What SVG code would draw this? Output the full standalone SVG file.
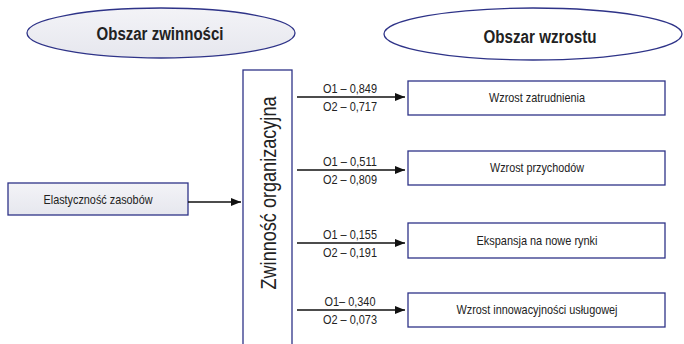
<svg xmlns="http://www.w3.org/2000/svg" width="684" height="344" viewBox="0 0 684 344">
  <defs>
    <linearGradient id="softFill" x1="0" y1="0" x2="0" y2="1">
      <stop offset="0" stop-color="#f3f3f7"/>
      <stop offset="1" stop-color="#e6e7ee"/>
    </linearGradient>
    <marker id="head" viewBox="0 0 10 8" refX="10" refY="4" markerWidth="10" markerHeight="8" markerUnits="userSpaceOnUse" orient="auto">
      <path d="M0,0 L10,4 L0,8 Z" fill="#111"/>
    </marker>
    <style>
      .frame { stroke: #2e3388; stroke-width: 1.3; }
      .t { font-family: "Liberation Sans Narrow", "Liberation Sans", Arial, sans-serif; fill: #222; text-anchor: middle; }
      .title { font-size: 18px; font-weight: bold; }
      .box { font-size: 13px; }
      .lbl { font-size: 13px; }
      .link { stroke: #111; stroke-width: 1.3; fill: none; marker-end: url(#head); }
    </style>
  </defs>

  <g id="area-agility">
    <ellipse class="frame" cx="161" cy="33" rx="134" ry="25" fill="url(#softFill)"/>
    <text class="t title" x="160" y="39.5" textLength="127" lengthAdjust="spacingAndGlyphs">Obszar zwinności</text>
  </g>

  <g id="area-growth">
    <ellipse class="frame" cx="533" cy="34" rx="149" ry="26" fill="#fff"/>
    <text class="t title" x="540" y="43" textLength="113" lengthAdjust="spacingAndGlyphs">Obszar wzrostu</text>
  </g>

  <g id="resource-flexibility">
    <rect class="frame" x="8" y="183" width="180" height="32" fill="url(#softFill)"/>
    <text class="t box" x="98" y="203.5" textLength="109" lengthAdjust="spacingAndGlyphs">Elastyczność zasobów</text>
  </g>

  <g id="organizational-agility">
    <rect class="frame" x="243" y="70" width="49" height="290" fill="#fff"/>
    <text class="t" font-size="22" transform="translate(275.5,193) rotate(-90)" x="0" y="0" textLength="193" lengthAdjust="spacingAndGlyphs">Zwinność organizacyjna</text>
  </g>

  <g id="employment-growth">
    <rect class="frame" x="408" y="81" width="257" height="34" fill="#fff"/>
    <text class="t box" x="537" y="102" textLength="96" lengthAdjust="spacingAndGlyphs">Wzrost zatrudnienia</text>
  </g>

  <g id="revenue-growth">
    <rect class="frame" x="408" y="151" width="257" height="34" fill="#fff"/>
    <text class="t box" x="537" y="172" textLength="94" lengthAdjust="spacingAndGlyphs">Wzrost przychodów</text>
  </g>

  <g id="market-expansion">
    <rect class="frame" x="408" y="223" width="257" height="35" fill="#fff"/>
    <text class="t box" x="537" y="244.5" textLength="121" lengthAdjust="spacingAndGlyphs">Ekspansja na nowe rynki</text>
  </g>

  <g id="service-innovation">
    <rect class="frame" x="408" y="293" width="257" height="34" fill="#fff"/>
    <text class="t box" x="537" y="314" textLength="161" lengthAdjust="spacingAndGlyphs">Wzrost innowacyjności usługowej</text>
  </g>

  <g id="connectors">
    <line class="link" x1="188" y1="202" x2="241" y2="202"/>
    <line class="link" x1="297" y1="97" x2="405" y2="97"/>
    <line class="link" x1="297" y1="170" x2="405" y2="170"/>
    <line class="link" x1="297" y1="243" x2="405" y2="243"/>
    <line class="link" x1="297" y1="310" x2="405" y2="310"/>

    <text class="t lbl" x="350" y="93" textLength="54" lengthAdjust="spacingAndGlyphs">O1 – 0,849</text>
    <text class="t lbl" x="350" y="111" textLength="54" lengthAdjust="spacingAndGlyphs">O2 – 0,717</text>
    <text class="t lbl" x="350" y="166" textLength="54" lengthAdjust="spacingAndGlyphs">O1 – 0,511</text>
    <text class="t lbl" x="350" y="184" textLength="54" lengthAdjust="spacingAndGlyphs">O2 – 0,809</text>
    <text class="t lbl" x="350" y="239" textLength="54" lengthAdjust="spacingAndGlyphs">O1 – 0,155</text>
    <text class="t lbl" x="350" y="257" textLength="54" lengthAdjust="spacingAndGlyphs">O2 – 0,191</text>
    <text class="t lbl" x="350" y="306" textLength="51" lengthAdjust="spacingAndGlyphs">O1– 0,340</text>
    <text class="t lbl" x="350" y="324" textLength="54" lengthAdjust="spacingAndGlyphs">O2 – 0,073</text>
  </g>
</svg>
